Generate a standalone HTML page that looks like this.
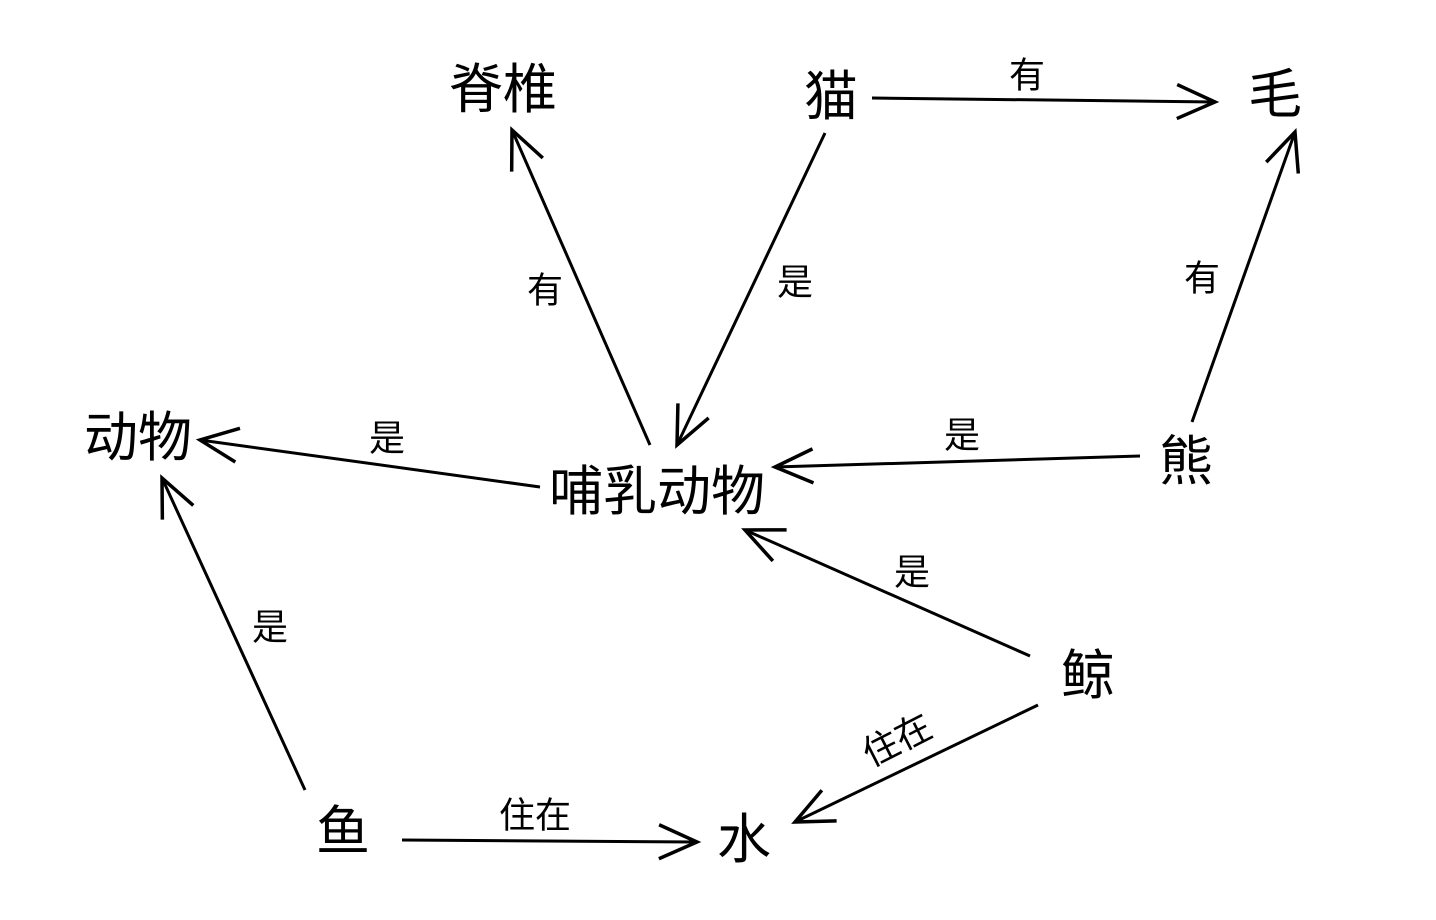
<!DOCTYPE html>
<html><head><meta charset="utf-8"><style>
html,body{margin:0;padding:0;background:#fff;}
svg{display:block;}
text{font-family:"Liberation Sans","Noto Sans CJK SC",sans-serif;fill:#000;}
.n{font-size:54px;}
.l{font-size:36px;}
line{stroke:#000;stroke-width:3;}
</style></head><body>
<svg width="1436" height="920" viewBox="0 0 1436 920" xmlns="http://www.w3.org/2000/svg">
<defs>
<marker id="a" markerWidth="50" markerHeight="40" refX="40" refY="20" orient="auto" markerUnits="userSpaceOnUse">
<path d="M2,3 L40,20 L2,37" fill="none" stroke="#000" stroke-width="3.5"/>
</marker>
</defs>
<line x1="872" y1="98" x2="1215" y2="102" marker-end="url(#a)"/>
<line x1="650" y1="445" x2="512" y2="130" marker-end="url(#a)"/>
<line x1="825" y1="133" x2="677" y2="445" marker-end="url(#a)"/>
<line x1="1192" y1="422" x2="1295" y2="132" marker-end="url(#a)"/>
<line x1="1140" y1="456" x2="775" y2="467" marker-end="url(#a)"/>
<line x1="540" y1="487" x2="200" y2="440" marker-end="url(#a)"/>
<line x1="1030" y1="656" x2="745" y2="530" marker-end="url(#a)"/>
<line x1="305" y1="790" x2="162" y2="478" marker-end="url(#a)"/>
<line x1="1038" y1="705" x2="795" y2="822" marker-end="url(#a)"/>
<line x1="402" y1="840" x2="697" y2="842" marker-end="url(#a)"/>

<g class="n" text-anchor="middle" dominant-baseline="central">
<text x="503" y="90">脊椎</text>
<text x="831" y="97">猫</text>
<text x="1275" y="95">毛</text>
<text x="138" y="438">动物</text>
<text x="657" y="492">哺乳动物</text>
<text x="1186" y="462">熊</text>
<text x="1088" y="676">鲸</text>
<text x="343" y="832">鱼</text>
<text x="744" y="840">水</text>
</g>
<g class="l" text-anchor="middle" dominant-baseline="central">
<text x="1027" y="75">有</text>
<text x="545" y="290">有</text>
<text x="795" y="282">是</text>
<text x="1202" y="278">有</text>
<text x="962" y="435">是</text>
<text x="387" y="438">是</text>
<text x="912" y="572">是</text>
<text x="270" y="627">是</text>
<text x="535" y="815">住在</text>
<text x="897" y="740" transform="rotate(-27 897 740)">住在</text>
</g>
</svg>
</body></html>
